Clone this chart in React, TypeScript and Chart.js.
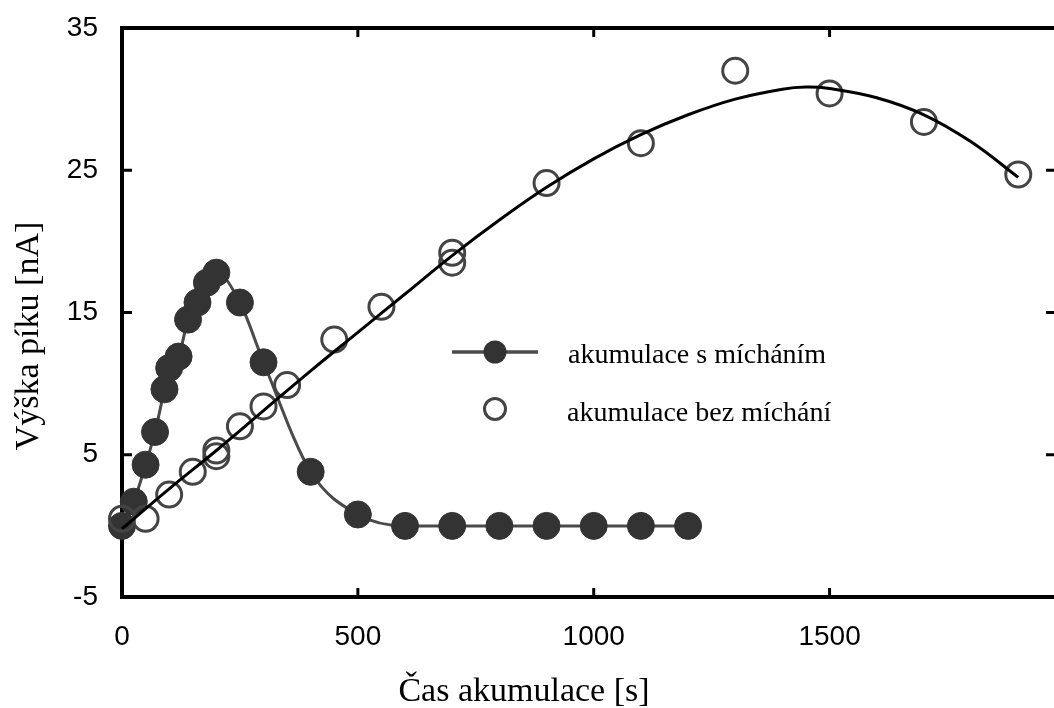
import { useEffect, useRef } from "react";
import { Chart, registerables } from "chart.js";

Chart.register(...registerables);

// akumulace s mícháním (filled)
const mixTime = [0, 25, 50, 70, 90, 100, 120, 140, 160, 180, 200, 250, 300, 400, 500, 600, 700, 800, 900, 1000, 1100, 1200];
const mixPeak = [0, 1.7, 4.3, 6.6, 9.6, 11.1, 11.9, 14.5, 15.7, 17.1, 17.8, 15.7, 11.5, 3.8, 0.8, 0, 0, 0, 0, 0, 0, 0];

// akumulace bez míchání (open)
const noMixTime = [0, 50, 100, 150, 200, 200, 250, 300, 350, 450, 550, 700, 700, 900, 1100, 1300, 1500, 1700, 1900];
const noMixPeak = [0.5, 0.5, 2.2, 3.8, 5.3, 4.9, 7.0, 8.4, 9.9, 13.1, 15.4, 19.2, 18.5, 24.1, 26.9, 32.0, 30.4, 28.4, 24.7];

// fitted curve for open points
const fitTime = [0, 100, 200, 300, 400, 500, 600, 700, 800, 900, 1000, 1100, 1200, 1300, 1400, 1450, 1500, 1600, 1700, 1800, 1900];
const fitPeak = [-0.2, 2.6, 5.3, 8.1, 10.9, 13.6, 16.3, 19.0, 21.5, 23.8, 25.8, 27.5, 28.9, 30.0, 30.7, 30.85, 30.75, 30.1, 28.9, 27.0, 24.5];

const xTickValues = [0, 500, 1000, 1500];
const yTickValues = [-5, 5, 15, 25, 35];
const xInnerTicks = [500, 1000, 1500];
const yInnerTicks = [5, 15, 25];

const xTitle = "Čas akumulace [s]";
const yTitle = "Výška píku [nA]";
const legendLabels = ["akumulace s mícháním", "akumulace bez míchání"];

const FILL = "#333333";
const OPEN = "#444444";
const MIXLINE = "#4a4a4a";

const framePlugin = {
  id: "frame",
  beforeDatasetsDraw(chart: any) {
    const { ctx, chartArea: a, scales } = chart;
    const x = scales.x;
    const y = scales.y;
    ctx.save();
    ctx.strokeStyle = "#000";
    ctx.lineCap = "butt";
    ctx.lineWidth = 4;
    ctx.beginPath();
    ctx.moveTo(a.left - 2, a.top);
    ctx.lineTo(a.right, a.top);
    ctx.moveTo(a.left, a.top);
    ctx.lineTo(a.left, a.bottom + 2);
    ctx.moveTo(a.left - 2, a.bottom);
    ctx.lineTo(a.right, a.bottom);
    ctx.moveTo(a.right, a.top);
    ctx.lineTo(a.right, a.bottom);
    ctx.stroke();
    ctx.lineWidth = 3;
    ctx.beginPath();
    for (const v of xInnerTicks) {
      const px = x.getPixelForValue(v);
      ctx.moveTo(px, a.bottom);
      ctx.lineTo(px, a.bottom - 9);
      ctx.moveTo(px, a.top);
      ctx.lineTo(px, a.top + 9);
    }
    for (const v of yInnerTicks) {
      const py = y.getPixelForValue(v);
      ctx.moveTo(a.left, py);
      ctx.lineTo(a.left + 10, py);
      ctx.moveTo(a.right, py);
      ctx.lineTo(a.right - 10, py);
    }
    ctx.stroke();
    ctx.restore();
  },
  afterDraw(chart: any) {
    const { ctx, scales } = chart;
    const x = scales.x;
    const y = scales.y;
    ctx.save();
    ctx.fillStyle = "#000";
    ctx.font = '28px "Liberation Sans", Arial, sans-serif';
    ctx.textAlign = "right";
    ctx.textBaseline = "middle";
    for (const v of yTickValues) {
      ctx.fillText(String(v), 98, y.getPixelForValue(v));
    }
    ctx.textAlign = "center";
    for (const v of xTickValues) {
      ctx.fillText(String(v), x.getPixelForValue(v), 637);
    }
    ctx.font = '34px "Liberation Serif", "Times New Roman", serif';
    ctx.textBaseline = "alphabetic";
    ctx.fillText(xTitle, 524, 701);
    ctx.save();
    ctx.translate(38, 336);
    ctx.rotate(-Math.PI / 2);
    ctx.font = '34px "Liberation Serif", "Times New Roman", serif';
    ctx.fillText(yTitle, 0, 0);
    ctx.restore();

    // legend
    ctx.strokeStyle = MIXLINE;
    ctx.lineWidth = 3.5;
    ctx.beginPath();
    ctx.moveTo(452, 352);
    ctx.lineTo(538, 352);
    ctx.stroke();
    ctx.fillStyle = FILL;
    ctx.beginPath();
    ctx.arc(495, 352, 11.5, 0, Math.PI * 2);
    ctx.fill();
    ctx.strokeStyle = OPEN;
    ctx.lineWidth = 3;
    ctx.beginPath();
    ctx.arc(495, 409, 10.5, 0, Math.PI * 2);
    ctx.stroke();
    ctx.fillStyle = "#000";
    ctx.textAlign = "left";
    ctx.font = '28px "Liberation Serif", "Times New Roman", serif';
    ctx.fillText(legendLabels[0], 568, 363);
    ctx.fillText(legendLabels[1], 567, 421);
    ctx.restore();
  },
};

export default function App() {
  const ref = useRef<HTMLCanvasElement | null>(null);
  useEffect(() => {
    if (!ref.current) return;
    const chart = new Chart(ref.current, {
      type: "scatter",
      data: {
        datasets: [
          {
            label: "fit",
            data: fitTime.map((t, i) => ({ x: t, y: fitPeak[i] })),
            showLine: true,
            borderColor: "#000",
            borderWidth: 3,
            pointRadius: 0,
            tension: 0.4,
            order: 0,
            clip: false,
          } as any,
          {
            label: legendLabels[1],
            data: noMixTime.map((t, i) => ({ x: t, y: noMixPeak[i] })),
            showLine: false,
            borderColor: OPEN,
            backgroundColor: "rgba(0,0,0,0)",
            pointRadius: 12.5,
            pointBorderWidth: 3,
            order: 1,
            clip: false,
          } as any,
          {
            label: legendLabels[0],
            data: mixTime.map((t, i) => ({ x: t, y: mixPeak[i] })),
            showLine: true,
            borderColor: MIXLINE,
            borderWidth: 3,
            cubicInterpolationMode: "monotone",
            pointRadius: 13.5,
            pointBorderWidth: 1,
            pointBorderColor: FILL,
            pointBackgroundColor: FILL,
            order: 2,
            clip: false,
          } as any,
        ],
      },
      options: {
        animation: false,
        responsive: false,
        devicePixelRatio: 1,
        layout: { padding: { left: 122, top: 28, right: 24, bottom: 111 } },
        plugins: { legend: { display: false }, tooltip: { enabled: false } },
        events: [],
        scales: {
          x: { type: "linear", min: 0, max: 1980, display: false },
          y: { type: "linear", min: -5, max: 35, display: false },
        },
      } as any,
      plugins: [framePlugin],
    });
    return () => chart.destroy();
  }, []);
  return (
    <div style={{ position: "absolute", left: 0, top: 0, width: 1054, height: 708, overflow: "hidden", background: "#fff" }}>
      <canvas ref={ref} width={1080} height={708} style={{ width: 1080, height: 708, display: "block" }} />
    </div>
  );
}
